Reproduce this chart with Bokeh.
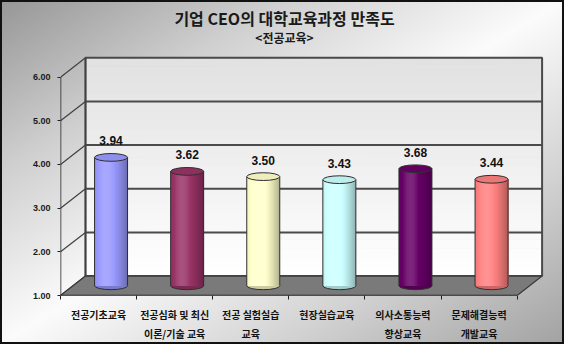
import math
from bokeh.plotting import figure
from bokeh.models import Range1d, FixedTicker, PrintfTickFormatter
from bokeh.core.properties import value
from bokeh.embed import file_html
from bokeh.resources import INLINE

# ---------------- data ----------------
title_text = "기업 CEO의 대학교육과정 만족도"
subtitle_text = "<전공교육>"
categories = ["전공기초교육", "전공심화 및 최신\n이론/기술 교육", "전공 실험실습\n교육",
              "현장실습교육", "의사소통능력\n향상교육", "문제해결능력\n개발교육"]
scores = [3.94, 3.62, 3.50, 3.43, 3.68, 3.44]
score_labels = ["3.94", "3.62", "3.50", "3.43", "3.68", "3.44"]
bar_colors = ["#9999FF", "#993366", "#FFFFCC", "#CCFFFF", "#660066", "#FF8080"]
y_ticks = [1, 2, 3, 4, 5, 6]

# ---------------- layout constants ----------------
W, H = 564, 344
LEFT, BOTTOM = 60, 40
CW = 76.1          # px per category
VU = 45.0          # px per value unit
X0 = -0.5
x_end = X0 + (W - LEFT) / CW
y_end = 1 + (H - BOTTOM) / VU
DX = 25 / CW       # depth offset (x, data units)
DY = 20 / VU       # depth offset (y, data units)
BAR_W = 33 / CW
ELL_H = 8 / VU
N_STRIPES = 24
n = len(categories)
ymin, ymax = y_ticks[0], y_ticks[-1]

p = figure(width=W, height=H, output_backend="svg", toolbar_location=None,
           x_range=Range1d(X0, x_end), y_range=Range1d(ymin, y_end),
           min_border_left=LEFT, min_border_bottom=BOTTOM, min_border_top=0, min_border_right=0)
p.border_fill_color = None
p.background_fill_color = None
p.outline_line_color = None
p.grid.visible = False
p.styles = {
    "background": "linear-gradient(to bottom right, #969696 0%, #cfcfcf 25%, #fbfbfb 50%, #d2d2d2 75%, #a2a2a2 100%)",
    "outline": "2px solid #111",
    "outline-offset": "-2px",
}

# ---------------- back wall (light vertical gradient) ----------------
nb = 24
wall_l, wall_r = X0 + DX, X0 + n + DX
band_b, band_t, band_c = [], [], []
for j in range(nb):
    b = ymin + DY + (ymax - ymin) * j / nb
    t = ymin + DY + (ymax - ymin) * (j + 1) / nb + 0.01
    g = int(round(255 - 30 * (j + 0.5) / nb))
    band_b.append(b); band_t.append(t); band_c.append("#%02x%02x%02x" % (g, g, g))
p.quad(left=wall_l, right=wall_r, bottom=band_b, top=band_t, fill_color=band_c, line_color=None)

# back-wall gridlines
inner = [v + DY for v in y_ticks[1:-1]]
p.segment(x0=[wall_l] * len(inner), y0=inner, x1=[wall_r] * len(inner), y1=inner,
          line_color="#4a4a4a", line_width=2)
# back wall outline
p.quad(left=wall_l, right=wall_r, bottom=ymin + DY, top=ymax + DY,
       fill_color=None, line_color="#4a4a4a", line_width=2)

# left side: diagonals from axis ticks to back wall, and wall edge
p.segment(x0=[X0] * len(y_ticks), y0=y_ticks, x1=[X0 + DX] * len(y_ticks),
          y1=[v + DY for v in y_ticks], line_color="#404040", line_width=1.2)
p.segment(x0=[X0 + DX], y0=[ymin + DY], x1=[X0 + DX], y1=[ymax + DY],
          line_color="#404040", line_width=1.5)

# floor
p.patch(x=[X0, X0 + n, X0 + n + DX, X0 + DX], y=[ymin, ymin, ymin + DY, ymin + DY],
        fill_color="#7a7a7a", line_color="#3a3a3a", line_width=1.2)
# front x axis edge and front y axis line
p.segment(x0=[X0], y0=[ymin], x1=[X0 + n], y1=[ymin], line_color="#202020", line_width=1.5)
p.segment(x0=[X0], y0=[ymin], x1=[X0], y1=[ymax], line_color="#202020", line_width=1.5)

# ---------------- cylinders ----------------
def shade(hexc, f):
    r, g, b = (int(hexc[i:i + 2], 16) for i in (1, 3, 5))
    out = []
    for c in (r, g, b):
        if f <= 1:
            c2 = c * f
        else:
            c2 = c + (255 - c) * (f - 1) * 2.5
        out.append(max(0, min(255, int(round(c2)))))
    return "#%02x%02x%02x" % tuple(out)

sl, sr, sb, st, sc = [], [], [], [], []
cx_list, top_list, bot_list, top_col, bot_col = [], [], [], [], []
for i, (v, col) in enumerate(zip(scores, bar_colors)):
    cx = i + DX / 2
    x0 = cx - BAR_W / 2
    bot = ymin + DY / 2
    top = v + DY / 2
    for k in range(N_STRIPES):
        t = (k + 0.5) / N_STRIPES
        f = 0.74 + 0.32 * math.cos((t - 0.35) * math.pi / 1.2)
        sl.append(x0 + k * BAR_W / N_STRIPES)
        sr.append(x0 + BAR_W)           # each stripe overlaps the following ones -> no seams
        sb.append(bot); st.append(top); sc.append(shade(col, f))
    cx_list.append(cx); top_list.append(top); bot_list.append(bot)
    top_col.append(shade(col, 0.93)); bot_col.append(shade(col, 0.8))

p.ellipse(x=cx_list, y=bot_list, width=BAR_W, height=ELL_H, fill_color=bot_col,
          line_color="#303030", line_width=1)
p.quad(left=sl, right=sr, bottom=sb, top=st, fill_color=sc, line_color=None)
p.segment(x0=[c - BAR_W / 2 for c in cx_list], y0=bot_list, x1=[c - BAR_W / 2 for c in cx_list],
          y1=top_list, line_color="#303030", line_width=1)
p.segment(x0=[c + BAR_W / 2 for c in cx_list], y0=bot_list, x1=[c + BAR_W / 2 for c in cx_list],
          y1=top_list, line_color="#303030", line_width=1)
p.ellipse(x=cx_list, y=top_list, width=BAR_W, height=ELL_H, fill_color=top_col,
          line_color="#303030", line_width=1)

# value labels
p.text(x=cx_list, y=[t + 0.38 for t in top_list], text=score_labels,
       text_align="center", text_baseline="middle", text_font=value("Liberation Sans"),
       text_font_style="bold", text_font_size="12px", text_color="#111111")

# titles
tx = X0 + 224 / CW
p.text(x=[tx], y=[y_end - 18 / VU], text=[title_text], text_align="center", text_baseline="middle",
       text_font=value("Noto Sans CJK KR"), text_font_style="bold", text_font_size="16px",
       text_color="#1a1a1a")
p.text(x=[tx], y=[y_end - 38 / VU], text=[subtitle_text], text_align="center", text_baseline="middle",
       text_font=value("Noto Sans CJK KR"), text_font_style="bold", text_font_size="12px",
       text_color="#1a1a1a")

# ---------------- axes ----------------
ya = p.yaxis[0]
ya.ticker = FixedTicker(ticks=y_ticks, minor_ticks=[])
ya.formatter = PrintfTickFormatter(format="%.2f")
ya.axis_line_color = None
ya.major_tick_out = 3
ya.major_tick_in = 0
ya.major_tick_line_color = "#202020"
ya.major_label_standoff = 7
ya.major_label_text_font = "Liberation Sans"
ya.major_label_text_font_style = "bold"
ya.major_label_text_font_size = "9px"
ya.major_label_text_color = "#1a1a1a"

xa = p.xaxis[0]
xa.ticker = FixedTicker(ticks=list(range(n)), minor_ticks=[X0 + k for k in range(n + 1)])
xa.major_label_overrides = {i: c for i, c in enumerate(categories)}
xa.axis_line_color = None
xa.major_tick_out = 0
xa.major_tick_in = 0
xa.minor_tick_out = 4
xa.minor_tick_in = 0
xa.minor_tick_line_color = "#202020"
xa.major_label_standoff = 7
xa.major_label_text_font = "Noto Sans CJK KR"
xa.major_label_text_font_style = "bold"
xa.major_label_text_font_size = "10px"
xa.major_label_text_line_height = 1.3
xa.major_label_text_color = "#111111"

open("out.html", "w").write(file_html(p, INLINE))
